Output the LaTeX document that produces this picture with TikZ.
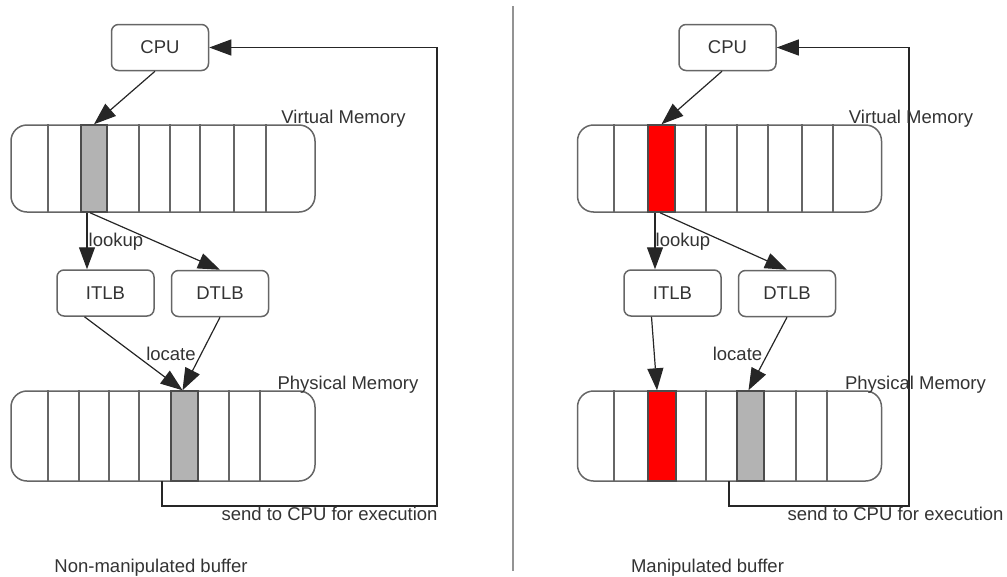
\documentclass[tikz,border=0pt]{standalone}
\usepackage{fontspec}
\setmainfont{Liberation Sans}
\usetikzlibrary{positioning,arrows.meta}

\definecolor{boxline}{HTML}{666666}
\definecolor{txt}{HTML}{333333}
\definecolor{selgray}{HTML}{B3B3B3}

\begin{document}
\begin{tikzpicture}[%
		x=1pt, y=-1pt,
		font=\fontsize{18.5}{22}\selectfont,
		text=txt,
		>={Triangle[length=22pt,width=16pt]},
		unit/.style={%
			draw=boxline,
			line width=1.5pt,
			rounded corners=7pt,
			minimum width=97pt,
			minimum height=46pt
		},
		membar/.style={%
			draw=boxline,
			line width=1.5pt,
			rounded corners=16pt,
			minimum width=304pt,
			minimum height=88pt,
			inner sep=0pt
		},
		slot/.style={%
			draw=black!70,
			line width=1.5pt,
			minimum width=27pt,
			inner sep=0pt
		},
		divider/.style={draw=boxline, line width=1.5pt},
		link/.style={->, draw=black!85, line width=1.2pt},
		lbl/.style={anchor=base}
		]
		\useasboundingbox (0,0) rectangle (1007,576);

		% left: non-manipulated buffer
		\node[unit] (cpuL) at (160,47.5)                             {CPU};
		\node[membar, minimum height=87pt] (vmL) at (163,168.5)      {};
		\foreach \x in {48,139,170,200,234,266}
			\draw[divider] (\x,0 |- vmL.north) -- (\x,0 |- vmL.south);
		\node[slot, fill=selgray, minimum width=26pt, minimum height=87pt] (vmselL) at (94,168.5) {};
		\node[unit] (itlbL) at (105.5,293)                           {ITLB};
		\node[unit] (dtlbL) at (220,293.5)                           {DTLB};
		\node[membar, minimum height=90pt] (pmL) at (163,436)        {};
		\foreach \x in {48,79,109,139,229,260}
			\draw[divider] (\x,0 |- pmL.north) -- (\x,0 |- pmL.south);
		\node[slot, fill=selgray, minimum height=90pt] (pmselL) at (184.5,436) {};
		\coordinate (outL) at (162,481);
		\coordinate (turnL) at (437,506);

		\draw[link] ([xshift=-5pt]cpuL.south) -- (vmselL.north);
		\draw[link] ([xshift=-7pt]vmselL.south) -- ([xshift=-18.5pt]itlbL.north);
		\draw[link] ([xshift=-4pt]vmselL.south) -- (dtlbL.north);
		\draw[link] ([xshift=-21pt]itlbL.south) -- ([xshift=-2pt]pmselL.north);
		\draw[link] (dtlbL.south) -- ([xshift=-2pt]pmselL.north);
		\draw[link] (outL) |- (turnL) |- (cpuL.east);

		\node[lbl] (vmlabL) at (343.5,123)  {Virtual Memory};
		\node[lbl] (pmlabL) at (348,389)    {Physical Memory};
		\node[lbl] (lookL) at (116,246)     {lookup};
		\node[lbl] (locL) at (171,360)      {locate};
		\node[lbl] (sendL) at (329.5,520)   {send to CPU for execution};
		\node[lbl] (capL) at (151,572)      {Non-manipulated buffer};

		% separator
		\coordinate (sepTop) at (513,6);
		\coordinate (sepBot) at (513,571);
		\draw[gray!85, line width=2pt] (sepTop) -- (sepBot);

		% right: manipulated buffer
		\node[unit] (cpuR) at (727.5,47.5)                           {CPU};
		\node[membar, minimum height=87pt] (vmR) at (729.5,168.5)    {};
		\foreach \x in {614,706,737,768,802,833}
			\draw[divider] (\x,0 |- vmR.north) -- (\x,0 |- vmR.south);
		\node[slot, fill=red, minimum height=87pt] (vmselR) at (661.5,168.5) {};
		\node[unit] (itlbR) at (672.5,293)                           {ITLB};
		\node[unit] (dtlbR) at (787,293.5)                           {DTLB};
		\node[membar, minimum height=90pt] (pmR) at (729.5,436)      {};
		\foreach \x in {614,706,796,827}
			\draw[divider] (\x,0 |- pmR.north) -- (\x,0 |- pmR.south);
		\node[slot, fill=red, minimum width=28pt, minimum height=90pt] (pmredR) at (662,436) {};
		\node[slot, fill=selgray, minimum height=90pt] (pmgrayR) at (750.5,436) {};
		\coordinate (outR) at (729,481);
		\coordinate (turnR) at (909,506);

		\draw[link] ([xshift=-5.5pt]cpuR.south) -- (vmselR.north);
		\draw[link] ([xshift=-6.5pt]vmselR.south) -- ([xshift=-17.5pt]itlbR.north);
		\draw[link] ([xshift=-1.5pt]vmselR.south) -- (dtlbR.north);
		\draw[link] ([xshift=-21pt]itlbR.south) -- ([xshift=-5pt]pmredR.north);
		\draw[link] (dtlbR.south) -- ([xshift=-2pt]pmgrayR.north);
		\draw[link] (outR) |- (turnR) |- (cpuR.east);

		\node[lbl] (vmlabR) at (911,123)    {Virtual Memory};
		\node[lbl] (pmlabR) at (915.5,389)  {Physical Memory};
		\node[lbl] (lookR) at (683,246)     {lookup};
		\node[lbl] (locR) at (737.5,360)    {locate};
		\node[lbl] (sendR) at (895.5,520)   {send to CPU for execution};
		\node[lbl] (capR) at (707.5,572)    {Manipulated buffer};
\end{tikzpicture}
\end{document}
